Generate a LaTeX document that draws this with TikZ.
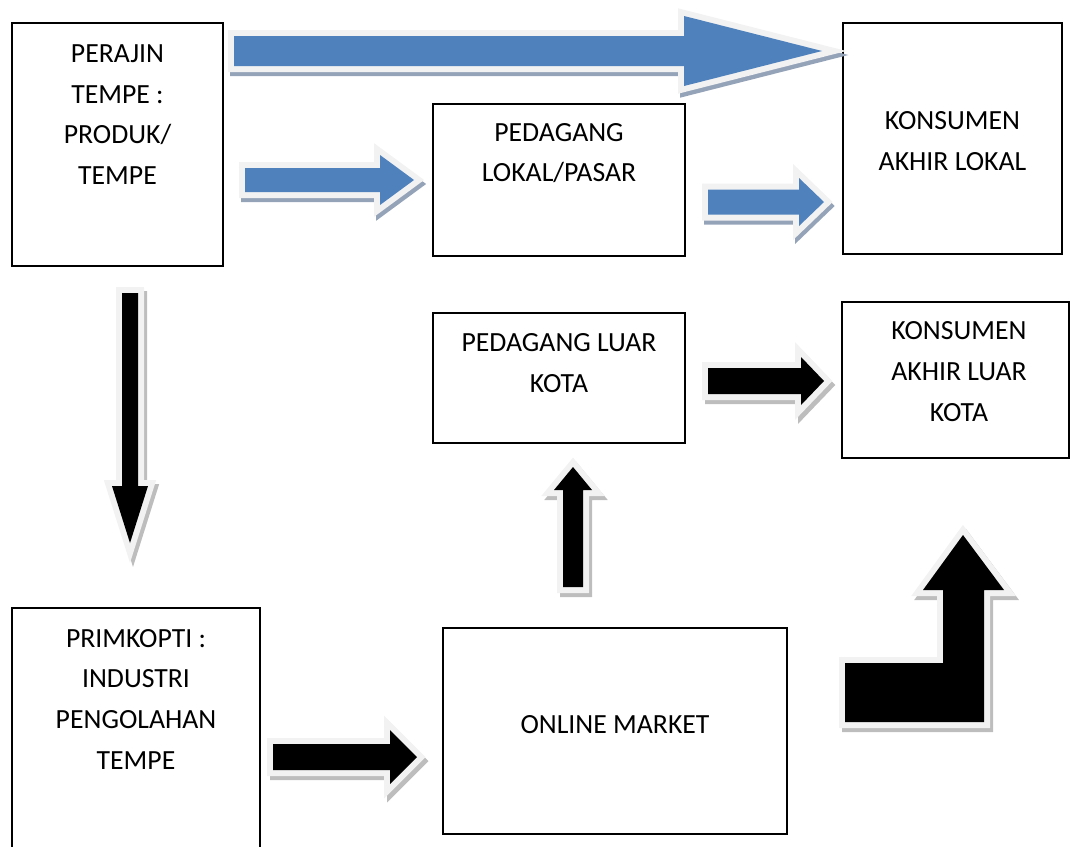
\documentclass[tikz,border=0pt]{standalone}
\usepackage{fontspec}
\setmainfont{Carlito}
\definecolor{blockblue}{HTML}{4F81BD}
\definecolor{glowgray}{HTML}{F2F2F2}
\definecolor{shadeblue}{HTML}{95A3B9}
\definecolor{shadegray}{HTML}{BDBDBD}
\begin{document}
\begin{tikzpicture}[x=0.75pt,y=-0.75pt,
  box/.style={draw=black,line width=1.2pt,inner sep=0pt},
  lbl/.style={align=center,inner sep=0pt,font=\fontsize{20.8}{30.5}\selectfont},
  shadeB/.style={draw=shadeblue,fill=shadeblue,line width=9pt,line join=miter,shift={(2,4)}},
  shadeK/.style={draw=shadegray,fill=shadegray,line width=9pt,line join=miter,shift={(3,4)}},
  glow/.style={draw=glowgray,fill=glowgray,line width=9pt,line join=miter},
  bodyB/.style={fill=blockblue},
  bodyK/.style={fill=black}]
\clip (0,0) rectangle (1070,846);

% boxes
\node[box,minimum width=211*0.75pt,minimum height=243*0.75pt] (perajin) at (117.5,144.5) {};
\node[box,minimum width=252*0.75pt,minimum height=152*0.75pt] (lokal) at (559,180) {};
\node[box,minimum width=219*0.75pt,minimum height=231*0.75pt] (konsL) at (952.5,138.5) {};
\node[box,minimum width=252*0.75pt,minimum height=130*0.75pt] (luar) at (559,378) {};
\node[box,minimum width=227*0.75pt,minimum height=156*0.75pt] (konsLK) at (955.5,380) {};
\node[box,minimum width=248*0.75pt,minimum height=244*0.75pt] (primkopti) at (136,730) {};
\node[box,minimum width=344*0.75pt,minimum height=206*0.75pt] (online) at (615,731) {};

\node[lbl] (perajinTxt) at (117.5,114.5) {PERAJIN\\TEMPE :\\PRODUK/\\TEMPE};
\node[lbl] (lokalTxt) at (559,153) {PEDAGANG\\LOKAL/PASAR};
\node[lbl] (konsLTxt) at (952.5,141) {KONSUMEN\\AKHIR LOKAL};
\node[lbl] (luarTxt) at (559,363) {PEDAGANG LUAR\\KOTA};
\node[lbl] (konsLKTxt) at (959,371.5) {KONSUMEN\\AKHIR LUAR\\KOTA};
\node[lbl] (primkoptiTxt) at (136,699) {PRIMKOPTI :\\INDUSTRI\\PENGOLAHAN\\TEMPE};
\node[lbl] (onlineTxt) at (615,725) {ONLINE MARKET};

% block arrows
\def\arrPK{(234,36) -- (684,36) -- (684,16) -- (822,51) -- (684,86) -- (684,66) -- (234,66) -- cycle}
\def\arrPL{(245,168) -- (380,168) -- (380,155) -- (414,180) -- (380,205) -- (380,192) -- (245,192) -- cycle}
\def\arrLK{(708,189.5) -- (799,189.5) -- (799,178) -- (824,202) -- (799,226) -- (799,214.5) -- (708,214.5) -- cycle}
\def\arrLL{(708,368) -- (801,368) -- (801,357) -- (824,381) -- (801,405) -- (801,394) -- (708,394) -- cycle}
\def\arrPO{(273,744) -- (390,744) -- (390,730) -- (417,757) -- (390,784) -- (390,770) -- (273,770) -- cycle}
\def\arrPP{(122,293) -- (122,486) -- (112,486) -- (130,543) -- (148,486) -- (138,486) -- (138,293) -- cycle}
\def\arrOL{(563,587) -- (563,490) -- (554,490) -- (573,467) -- (592,490) -- (583,490) -- (583,587) -- cycle}
\def\arrOK{(845,663) -- (943,663) -- (943,590) -- (923,590) -- (963,535) -- (1004,590) -- (984,590) -- (984,722) -- (845,722) -- cycle}

\path[shadeB] \arrPK;
\path[glow] \arrPK;
\path[bodyB] \arrPK;

\path[shadeB] \arrPL;
\path[glow] \arrPL;
\path[bodyB] \arrPL;

\path[shadeB] \arrLK;
\path[glow] \arrLK;
\path[bodyB] \arrLK;

\path[shadeK] \arrLL;
\path[glow] \arrLL;
\path[bodyK] \arrLL;

\path[shadeK] \arrPO;
\path[glow] \arrPO;
\path[bodyK] \arrPO;

\path[shadeK] \arrPP;
\path[glow] \arrPP;
\path[bodyK] \arrPP;

\path[shadeK] \arrOL;
\path[glow] \arrOL;
\path[bodyK] \arrOL;

\path[shadeK] \arrOK;
\path[glow] \arrOK;
\path[bodyK] \arrOK;
\end{tikzpicture}
\end{document}
